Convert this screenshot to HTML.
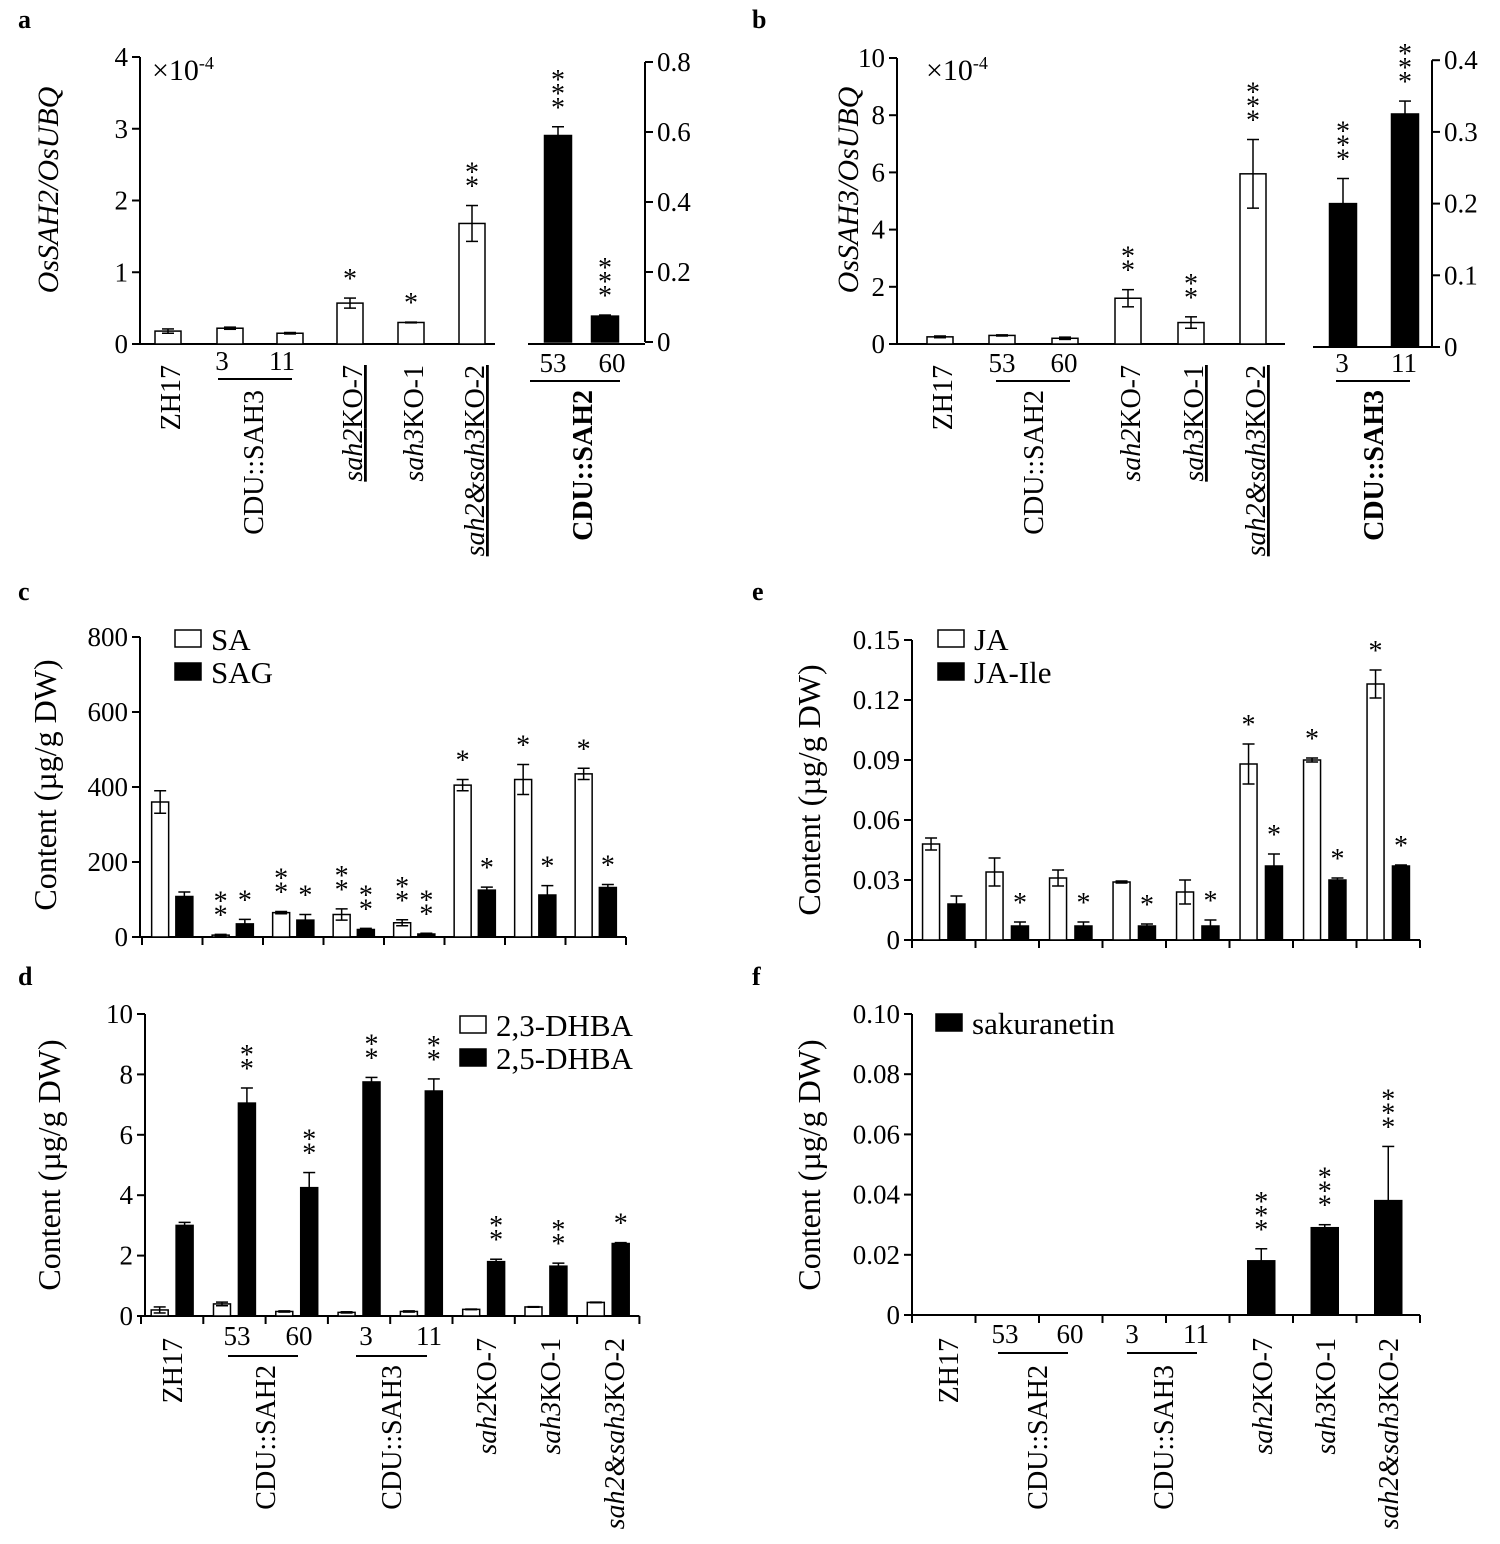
<!DOCTYPE html>
<html><head><meta charset="utf-8"><style>
html,body{margin:0;padding:0;background:#fff;}
svg{display:block;font-family:"Liberation Serif",serif;}
</style></head><body>
<svg id="fig" width="1500" height="1544" viewBox="0 0 1500 1544" xmlns="http://www.w3.org/2000/svg"></svg>
<script>
// ---- data ----
const aLeftCats=["ZH17","3","11","sah2KO-7","sah3KO-1","sah2&sah3KO-2"];
const aLeftVals=[0.18,0.22,0.15,0.57,0.30,1.68];
const aLeftErr=[0.03,0.015,0.01,0.07,0.005,0.25];
const aLeftStars=[0,0,0,1,1,2];
const aRightCats=["53","60"];
const aRightVals=[0.59,0.074];
const aRightErr=[0.025,0.003];
const aRightStars=[3,3];
const aLeftTicks=[0,1,2,3,4];
const aRightTicks=[0,0.2,0.4,0.6,0.8];

const bLeftCats=["ZH17","53","60","sah2KO-7","sah3KO-1","sah2&sah3KO-2"];
const bLeftVals=[0.25,0.3,0.2,1.6,0.75,5.95];
const bLeftErr=[0.03,0.02,0.04,0.3,0.2,1.2];
const bLeftStars=[0,0,0,2,2,3];
const bRightCats=["3","11"];
const bRightVals=[0.2,0.325];
const bRightErr=[0.035,0.018];
const bRightStars=[3,3];
const bLeftTicks=[0,2,4,6,8,10];
const bRightTicks=[0,0.1,0.2,0.3,0.4];

const cSA=[360,5,65,60,38,405,420,435];
const cSAerr=[30,2,3,15,8,15,40,15];
const cSAG=[108,35,45,20,8,125,112,132];
const cSAGerr=[12,12,15,3,2,8,25,8];
const cSAstars=[0,2,2,2,2,1,1,1];
const cSAGstars=[0,1,1,2,2,1,1,1];
const cTicks=[0,200,400,600,800];

const eJA=[0.048,0.034,0.031,0.029,0.024,0.088,0.090,0.128];
const eJAerr=[0.003,0.007,0.004,0.0005,0.006,0.01,0.001,0.007];
const eIle=[0.018,0.007,0.007,0.007,0.007,0.037,0.030,0.037];
const eIleErr=[0.004,0.002,0.002,0.001,0.003,0.006,0.001,0.0005];
const eJAstars=[0,0,0,0,0,1,1,1];
const eIleStars=[0,1,1,1,1,1,1,1];
const eTicks=[0,0.03,0.06,0.09,0.12,0.15];
const eTickLabels=["0","0.03","0.06","0.09","0.12","0.15"];

const dCats=["ZH17","53","60","3","11","sah2KO-7","sah3KO-1","sah2&sah3KO-2"];
const d23=[0.2,0.4,0.15,0.12,0.15,0.22,0.3,0.45];
const d23err=[0.1,0.06,0.02,0.02,0.02,0.01,0.01,0.01];
const d25=[3.0,7.05,4.25,7.75,7.45,1.8,1.65,2.4];
const d25err=[0.1,0.5,0.5,0.15,0.4,0.08,0.1,0.03];
const d25stars=[0,2,2,2,2,2,2,1];
const dTicks=[0,2,4,6,8,10];

const fSak=[0,0,0,0,0,0.018,0.029,0.038];
const fSakErr=[0,0,0,0,0,0.004,0.001,0.018];
const fStars=[0,0,0,0,0,3,3,3];
const fTicks=[0,0.02,0.04,0.06,0.08,0.10];
const fTickLabels=["0","0.02","0.04","0.06","0.08","0.10"];

// ---- helpers ----
const svg=document.getElementById('fig');
const NS="http://www.w3.org/2000/svg";
const TICK=27, CAT=28;
function mk(tag,attrs,parent,txt){const e=document.createElementNS(NS,tag);for(const k in attrs)e.setAttribute(k,attrs[k]);if(txt!==undefined)e.textContent=txt;(parent||svg).appendChild(e);return e;}
function grp(name){const g=mk('g',{});


return g;}
function line(g,x1,y1,x2,y2,w){return mk('line',{x1,y1,x2,y2,stroke:'#000','stroke-width':w||2},g);}
function text(g,x,y,t,o){o=o||{};const e=mk('text',{x,y,'font-size':o.size||TICK,'text-anchor':o.anchor||'middle','font-style':o.style||'normal','font-weight':o.weight||'normal'},g,t);if(o.rot)e.setAttribute('transform','rotate(-90 '+x+' '+y+')');return e;}
function yAxis(g,x,scale,ticks,labels,side){
  const y0=scale(ticks[0]),y1=scale(ticks[ticks.length-1]);
  line(g,x,y0,x,y1);
  ticks.forEach((t,i)=>{const y=scale(t);
    if(side==='left'){line(g,x-8,y,x,y);const l=text(g,x-12,y+9,labels?labels[i]:String(t),{anchor:'end'});
      
      }
    else{line(g,x,y,x+8,y);const l=text(g,x+12,y+9,labels?labels[i]:String(t),{anchor:'start'});
      
      }
  });
}
function bar(g,cx,w,yv,y0,fill,name){
  const r=mk('rect',{x:cx-w/2,y:Math.min(yv,y0),width:w,height:Math.abs(y0-yv),fill:fill,stroke:'#000','stroke-width':1.5},g);
  
  
  return r;
}
function err(g,cx,ylo,yhi,cap){line(g,cx,ylo,cx,yhi,1.5);line(g,cx-cap,yhi,cx+cap,yhi,1.5);line(g,cx-cap,ylo,cx+cap,ylo,1.5);}
function stars(g,cx,ytop,n){for(let i=0;i<n;i++){const s=text(g,cx,ytop-i*14+16,'*',{size:28});
  
  }}
function rlabel(g,x,y,parts,o){
  o=o||{};const e=mk('text',{x,y,'font-size':o.size||CAT,'text-anchor':'end',transform:'rotate(-90 '+x+' '+y+')','font-weight':o.weight||'normal','text-decoration':o.under?'underline':'none'},g);
  parts.forEach(p=>{mk('tspan',{'font-style':p[1]?'italic':'normal'},e,p[0]);});
  
  
  return e;}
function catParts(c){
  if(c==='sah2KO-7')return [['sah2',1],['KO-7',0]];
  if(c==='sah3KO-1')return [['sah3',1],['KO-1',0]];
  if(c==='sah2&sah3KO-2')return [['sah2&sah3',1],['KO-2',0]];
  return [[c,0]];
}
function letter(x,y,t){const e=text(svg,x,y,t,{size:26,weight:'bold',anchor:'start'});
  
  }

// ---- panel a ----
(function(){
  const g=grp('panel-a');
  letter(18,28,'a');
  const sL=v=>344-v*71.75, sR=v=>342-v*350;
  yAxis(g,140,sL,aLeftTicks,null,'left');
  yAxis(g,645,sR,aRightTicks,["0","0.2","0.4","0.6","0.8"],'right');
  line(g,140,344,495,344);line(g,528,344,645,344);
  const t=text(g,58,190,'',{rot:true,size:30});mk('tspan',{'font-style':'italic'},t,'OsSAH2/OsUBQ');
  
  const xl=text(g,152,80,'×',{size:30,anchor:'start'});
  mk('tspan',{},xl,'10');mk('tspan',{'font-size':18,dy:-11},xl,'-4');
  
  const xs=[168,230,290,350,411,472];
  aLeftVals.forEach((v,i)=>{bar(g,xs[i],26,sL(v),344,'#fff','bar-'+aLeftCats[i]);err(g,xs[i],sL(v-aLeftErr[i]),sL(v+aLeftErr[i]),6);stars(g,xs[i],sL(v+aLeftErr[i])-26,aLeftStars[i]);});
  const xr=[558,605];
  aRightVals.forEach((v,i)=>{bar(g,xr[i],27,sR(v),342,'#000','bar-'+aRightCats[i]);err(g,xr[i],sR(v-aRightErr[i]),sR(v+aRightErr[i]),6);stars(g,xr[i],sR(v+aRightErr[i])-26,aRightStars[i]);});
  rlabel(g,180,365,[['ZH17',0]]);
  text(g,222,370,'3');text(g,282,370,'11');line(g,218,379,292,379);
  rlabel(g,263,390,[['CDU::SAH3',0]]);
  rlabel(g,362,365,catParts('sah2KO-7'),{under:true});
  rlabel(g,423,365,catParts('sah3KO-1'));
  rlabel(g,484,365,catParts('sah2&sah3KO-2'),{under:true});
  text(g,553,372,'53');text(g,612,372,'60');line(g,530,381,620,381);
  rlabel(g,592,390,[['CDU::',0],['SAH2',0]],{weight:'bold'});
})();

// ---- panel b ----
(function(){
  const g=grp('panel-b');
  letter(752,28,'b');
  const sL=v=>344-v*28.6, sR=v=>347-v*717;
  yAxis(g,897,sL,bLeftTicks,null,'left');
  yAxis(g,1432,sR,bRightTicks,["0","0.1","0.2","0.3","0.4"],'right');
  line(g,897,344,1285,344);line(g,1313,347,1432,347);
  const t=text(g,858,190,'',{rot:true,size:30});mk('tspan',{'font-style':'italic'},t,'OsSAH3/OsUBQ');
  
  const xl=text(g,926,80,'×',{size:30,anchor:'start'});
  mk('tspan',{},xl,'10');mk('tspan',{'font-size':18,dy:-11},xl,'-4');
  
  const xs=[940,1002,1065,1128,1191,1253];
  bLeftVals.forEach((v,i)=>{bar(g,xs[i],26,sL(v),344,'#fff','bar-'+bLeftCats[i]);err(g,xs[i],sL(v-bLeftErr[i]),sL(v+bLeftErr[i]),6);stars(g,xs[i],sL(v+bLeftErr[i])-26,bLeftStars[i]);});
  const xr=[1343,1405];
  bRightVals.forEach((v,i)=>{bar(g,xr[i],27,sR(v),347,'#000','bar-'+bRightCats[i]);err(g,xr[i],sR(v-bRightErr[i]),sR(v+bRightErr[i]),6);stars(g,xr[i],sR(v+bRightErr[i])-26,bRightStars[i]);});
  rlabel(g,952,365,[['ZH17',0]]);
  text(g,1002,372,'53');text(g,1064,372,'60');line(g,996,381,1070,381);
  rlabel(g,1043,390,[['CDU::SAH2',0]]);
  rlabel(g,1140,365,catParts('sah2KO-7'));
  rlabel(g,1203,365,catParts('sah3KO-1'),{under:true});
  rlabel(g,1265,365,catParts('sah2&sah3KO-2'),{under:true});
  text(g,1342,372,'3');text(g,1404,372,'11');line(g,1336,381,1410,381);
  rlabel(g,1383,390,[['CDU::SAH3',0]],{weight:'bold'});
})();

// ---- grouped panel helper ----
function grouped(g,ax,x0,gw,n,scale,y0,s1,e1,st1,s2,e2,st2,w,name1,name2){
  line(g,ax,y0,x0+gw*n,y0);
  for(let i=0;i<=n;i++)line(g,x0+gw*i,y0,x0+gw*i,y0+8);
  for(let i=0;i<n;i++){
    const c=x0+gw*i+gw/2;
    if(s1){const x=c-gw*0.2;const v=s1[i];bar(g,x,w,scale(v),y0,'#fff',name1+'-'+i);if(e1)err(g,x,scale(v-e1[i]),scale(v+e1[i]),6);if(st1)stars(g,x,scale(v+(e1?e1[i]:0))-26,st1[i]);}
    if(s2){const x=s1?c+gw*0.2:c;const v=s2[i];if(v>0){bar(g,x,w,scale(v),y0,'#000',name2+'-'+i);if(e2)err(g,x,scale(v-e2[i]),scale(v+e2[i]),6);}if(st2)stars(g,x,scale(v+(e2?e2[i]:0))-26,st2[i]);}
  }
}
function legend(g,x,y,items){items.forEach((it,i)=>{const yy=y+i*33;
  const r=mk('rect',{x:x,y:yy,width:26,height:17,fill:it[1],stroke:'#000','stroke-width':1.5},g);
  
  
  const t=text(g,x+36,yy+20,it[0],{size:31,anchor:'start'});
  
  });}

// ---- panel c ----
(function(){
  const g=grp('panel-c');
  letter(18,600,'c');
  const s=v=>937-v*0.375;
  yAxis(g,140,s,cTicks,null,'left');
  const t=text(g,56,785,'Content (µg/g DW)',{rot:true,size:32});
  
  grouped(g,140,142,60.5,8,s,937,cSA,cSAerr,cSAstars,cSAG,cSAGerr,cSAGstars,17,'bar-SA','bar-SAG');
  legend(g,175,630,[['SA','#fff'],['SAG','#000']]);
})();

// ---- panel e ----
(function(){
  const g=grp('panel-e');
  letter(752,600,'e');
  const s=v=>940-v*2000;
  yAxis(g,912,s,eTicks,eTickLabels,'left');
  const t=text(g,820,790,'Content (µg/g DW)',{rot:true,size:32});
  
  grouped(g,912,912,63.5,8,s,940,eJA,eJAerr,eJAstars,eIle,eIleErr,eIleStars,17,'bar-JA','bar-JA-Ile');
  legend(g,938,630,[['JA','#fff'],['JA-Ile','#000']]);
})();

// ---- panel d ----
(function(){
  const g=grp('panel-d');
  letter(18,985,'d');
  const s=v=>1316-v*30.2;
  yAxis(g,145,s,dTicks,null,'left');
  const t=text(g,60,1165,'Content (µg/g DW)',{rot:true,size:32});
  
  grouped(g,145,141,62.3,8,s,1316,d23,d23err,null,d25,d25err,d25stars,17,'bar-2,3-DHBA','bar-2,5-DHBA');
  legend(g,460,1016,[['2,3-DHBA','#fff'],['2,5-DHBA','#000']]);
  rlabel(g,182,1338,[['ZH17',0]]);
  text(g,237,1345,'53');text(g,299,1345,'60');line(g,228,1356,298,1356);
  rlabel(g,275,1365,[['CDU::SAH2',0]]);
  text(g,366,1345,'3');text(g,429,1345,'11');line(g,356,1356,427,1356);
  rlabel(g,401,1365,[['CDU::SAH3',0]]);
  rlabel(g,496,1338,catParts('sah2KO-7'));
  rlabel(g,560,1338,catParts('sah3KO-1'));
  rlabel(g,624,1338,catParts('sah2&sah3KO-2'));
})();

// ---- panel f ----
(function(){
  const g=grp('panel-f');
  letter(752,985,'f');
  const s=v=>1315-v*3010;
  yAxis(g,912,s,fTicks,fTickLabels,'left');
  const t=text(g,820,1165,'Content (µg/g DW)',{rot:true,size:32});
  
  grouped(g,912,912,63.5,8,s,1315,null,null,null,fSak,fSakErr,fStars,27,'','bar-sakuranetin');
  legend(g,936,1014,[['sakuranetin','#000']]);
  rlabel(g,958,1338,[['ZH17',0]]);
  text(g,1005,1343,'53');text(g,1070,1343,'60');line(g,998,1353,1068,1353);
  rlabel(g,1047,1365,[['CDU::SAH2',0]]);
  text(g,1132,1343,'3');text(g,1196,1343,'11');line(g,1127,1353,1197,1353);
  rlabel(g,1173,1365,[['CDU::SAH3',0]]);
  rlabel(g,1272,1338,catParts('sah2KO-7'));
  rlabel(g,1335,1338,catParts('sah3KO-1'));
  rlabel(g,1398,1338,catParts('sah2&sah3KO-2'));
})();
</script>
</body></html>
